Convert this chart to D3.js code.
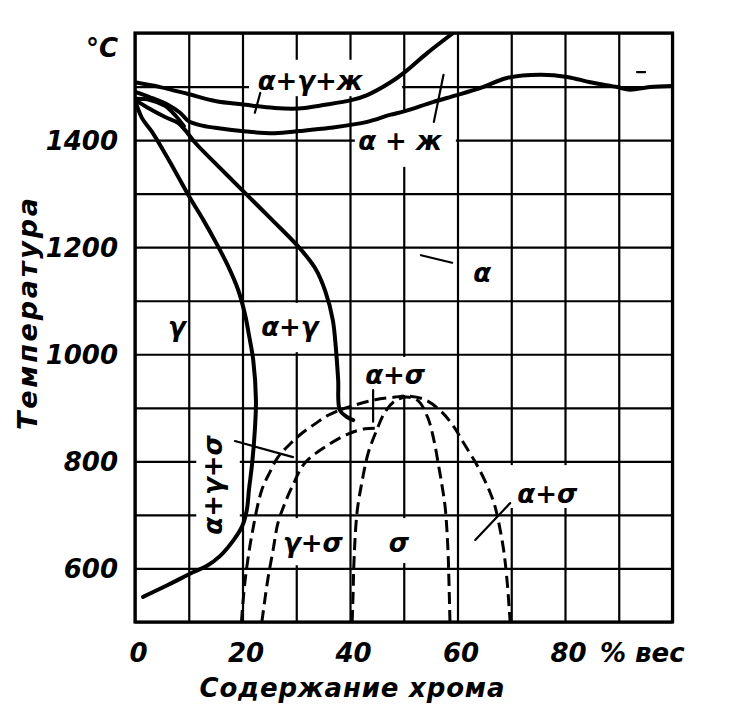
<!DOCTYPE html>
<html><head><meta charset="utf-8">
<script src="https://cdn.jsdelivr.net/npm/d3@7"></script>
<style>
html,body{margin:0;padding:0;background:#fff;}
svg{display:block;}
text{font-family:"DejaVu Sans",sans-serif;font-style:italic;font-weight:bold;fill:#000;}
</style></head><body>
<svg id="chart" width="734" height="709"></svg>
<script>
// ---------- data (Cr content, % by weight ; temperature, °C) ----------
const xGridValues = [0,10,20,30,40,50,60,70,80,90,100];
const yGridValues = [500,600,700,800,900,1000,1100,1200,1300,1400,1500,1600];
const xTickLabels = [0,20,40,60,80];
const yTickLabels = [600,800,1000,1200,1400];

// solid phase boundaries
const liquidus = [[0,1508],[4.7,1499],[9.9,1486],[14.9,1473],[20.5,1466],[26,1460],[30.3,1459],[35.4,1466],[40.4,1475],[43.2,1484],[47.4,1507],[50.2,1527],[54.3,1562],[59.2,1600]];
const solidus = [[0,1490],[2.8,1480],[6.1,1466],[8.4,1451],[9.9,1436],[12.1,1428],[14.9,1423],[20.7,1416],[26,1413],[30.7,1417],[36.3,1423],[43.2,1434],[47.4,1447],[50.2,1454],[55.4,1471],[59.9,1484],[64.7,1499],[69.2,1516],[75.4,1522],[80.4,1518],[84.7,1508],[89.7,1499],[92.1,1494],[95.8,1499],[100,1501]];
const lensTop = [[0,1477],[2.8,1475],[5.6,1464],[7.6,1445],[9.1,1426]];
const alphaGammaBoundary = [[0,1475],[2.8,1458],[5.6,1443],[8,1432],[9.3,1419],[11.2,1395],[15.8,1348],[20.5,1301],[25.5,1251],[30.3,1202],[33.5,1161],[35.4,1118],[36.8,1064],[37.4,1008],[37.8,952],[38.1,896],[39.4,883],[40.6,877]];
const gammaBoundary = [[0,1475],[1.3,1441],[3.2,1415],[6.5,1359],[10,1296],[12.7,1251],[15.1,1208],[17.3,1165],[19.2,1120],[20.5,1073],[21.2,1036],[22,989],[22.5,915],[22.3,859],[21.8,797],[21.2,747],[20.8,709],[19.9,678],[18.2,651],[15.8,623],[13.4,605],[10.8,593],[6.1,569],[1.5,547]];

// dashed (sigma-phase) boundaries
const sigmaOuterLeft = [[19.8,500],[20.5,579],[21.8,666],[23.6,747],[25.1,780],[26.6,808],[28.8,832],[31.1,853],[33.5,870],[35.7,885],[38.1,896]];
const sigmaInnerLeft = [[23.6,500],[24.7,579],[25.7,635],[26.6,685],[27.9,722],[29.2,752],[31.6,797],[35.4,827],[39.6,851],[42.8,861],[45,862]];
const sigmaPhase = [[40.4,500],[40.6,560],[40.7,603],[41.3,704],[42.2,760],[43.4,816],[45,859],[46.5,892],[48.4,913],[50.6,920],[52.7,913],[54.5,881],[55.6,840],[56.4,797],[57.1,756],[57.7,715],[58.2,640],[58.4,579],[58.6,500]];
const alphaSigmaOuter = [[38.1,896],[40.9,905],[44.7,915],[48.4,920],[50.6,922],[54,915],[57.1,892],[59.5,862],[60.8,840],[63.8,790],[66.1,741],[67,715],[68.5,640],[69.2,579],[69.8,500]];

// leader strokes of the field labels
const leaders = [
  [[23.3,1488],[22.3,1451]],
  [[57.4,1522],[55.6,1434]],
  [[53.2,1185],[59,1171]],
  [[18.6,838],[29.4,808]],
  [[63.3,653],[69.8,722]],
  [[44.3,933],[44.3,874]],
  [[93.4,1527],[94.9,1527]]
];

// field labels: text, Cr %, °C (text centre, baseline), rotation
const fieldLabels = [
  {t:"α+γ+ж", cr:32.6, temp:1493, rot:0},
  {t:"α + ж", cr:49.3, temp:1381, rot:0},
  {t:"α", cr:64.6, temp:1135, rot:0},
  {t:"γ", cr:7.8, temp:1034, rot:0},
  {t:"α+γ", cr:28.8, temp:1034, rot:0},
  {t:"α+σ", cr:48.4, temp:944, rot:0},
  {t:"σ", cr:49.1, temp:631, rot:0},
  {t:"γ+σ", cr:33.1, temp:631, rot:0},
  {t:"α+σ", cr:76.7, temp:722, rot:0},
  {t:"α+γ+σ", cr:16.2, temp:756, rot:-90}
];

// ---------- layout ----------
const gapBoxes = [ // white gaps of the grid behind the labels [cr0,cr1,t0,t1]
  [21.2,49.7,1482,1550],
  [40.9,59.7,1350,1451],
  [22.7,35.0,1004,1096],
  [42.8,53.9,924,995],
  [11.4,19.5,653,868],
  [27.0,39.3,606,694],
  [46.5,53.0,610,694],
  [68.8,83.7,713,793]
];

const svg = d3.select("#chart");
svg.append("rect").attr("width",734).attr("height",709).attr("fill","#fff");

const x = d3.scaleLinear().domain([0,100]).range([135,672.5]);
const y = d3.scaleLinear().domain([500,1600]).range([622,33]);
const pw = x(100)-x(0), ph = y(500)-y(1600);

// grid
svg.append("g").attr("transform",`translate(0,${y(500)})`)
  .call(d3.axisBottom(x).tickValues(xGridValues).tickSize(-ph).tickFormat(""))
  .call(g=>g.select(".domain").remove())
  .selectAll("line").attr("stroke","#000").attr("stroke-width",2.2);
svg.append("g").attr("transform",`translate(${x(0)},0)`)
  .call(d3.axisLeft(y).tickValues(yGridValues).tickSize(-pw).tickFormat(""))
  .call(g=>g.select(".domain").remove())
  .selectAll("line").attr("stroke","#000").attr("stroke-width",2.2);

// gaps
svg.append("g").selectAll("rect").data(gapBoxes).join("rect")
  .attr("x",d=>x(d[0])).attr("width",d=>x(d[1])-x(d[0]))
  .attr("y",d=>y(d[3])).attr("height",d=>y(d[2])-y(d[3]))
  .attr("fill","#fff");

// frame
svg.append("rect").attr("x",x(0)).attr("y",y(1600)).attr("width",pw).attr("height",ph)
  .attr("fill","none").attr("stroke","#000").attr("stroke-width",3.2);

svg.append("clipPath").attr("id","clip").append("rect")
  .attr("x",x(0)).attr("y",y(1600)).attr("width",pw).attr("height",ph);

const curve = d3.line().x(d=>x(d[0])).y(d=>y(d[1])).curve(d3.curveCatmullRom.alpha(0.5));
const straight = d3.line().x(d=>x(d[0])).y(d=>y(d[1]));
const plot = svg.append("g").attr("clip-path","url(#clip)");

[liquidus, solidus, lensTop, alphaGammaBoundary, gammaBoundary].forEach(c=>{
  plot.append("path").attr("d",curve(c)).attr("fill","none").attr("stroke","#000")
    .attr("stroke-width",4).attr("stroke-linecap","round").attr("stroke-linejoin","round");
});
[sigmaOuterLeft, sigmaInnerLeft, sigmaPhase, alphaSigmaOuter].forEach(c=>{
  plot.append("path").attr("d",curve(c)).attr("fill","none").attr("stroke","#000")
    .attr("stroke-width",3).attr("stroke-dasharray","12,6");
});
leaders.forEach(l=>{
  plot.append("path").attr("d",straight(l)).attr("fill","none").attr("stroke","#000")
    .attr("stroke-width",2.2).attr("stroke-linecap","round");
});

// field labels
svg.append("g").selectAll("text").data(fieldLabels).join("text")
  .attr("transform",d=>`translate(${x(d.cr)},${y(d.temp)}) rotate(${d.rot})`)
  .attr("text-anchor","middle").attr("font-size",26)
  .text(d=>d.t);

// tick labels
const xa = svg.append("g").attr("transform",`translate(0,${y(500)})`)
  .call(d3.axisBottom(x).tickValues(xTickLabels).tickSize(0).tickFormat(d3.format("d")));
xa.attr("font-family",null).attr("font-size",null);
xa.select(".domain").remove();
xa.selectAll("text").attr("y",40).attr("dy",null).attr("dx",3).attr("font-size",26).attr("fill","#000");

const ya = svg.append("g").attr("transform",`translate(${x(0)},0)`)
  .call(d3.axisLeft(y).tickValues(yTickLabels).tickSize(0).tickFormat(d3.format("d")));
ya.attr("font-family",null).attr("font-size",null);
ya.select(".domain").remove();
ya.selectAll("text").attr("x",-17).attr("dy","0.36em").attr("font-size",26).attr("fill","#000");

svg.append("text").attr("x",118).attr("y",y(1600)+24).attr("text-anchor","end")
  .attr("font-size",26).text("°C");
svg.append("text").attr("x",600).attr("y",y(500)+40).attr("font-size",26).text("% вес");

// axis titles
svg.append("text").attr("transform","translate(37,314) rotate(-90)")
  .attr("text-anchor","middle").attr("font-size",27)
  .attr("textLength",232).attr("lengthAdjust","spacing").text("Температура");
svg.append("text").attr("x",352).attr("y",697)
  .attr("text-anchor","middle").attr("font-size",26)
  .attr("textLength",305).attr("lengthAdjust","spacing").text("Содержание хрома");
</script>
</body></html>
